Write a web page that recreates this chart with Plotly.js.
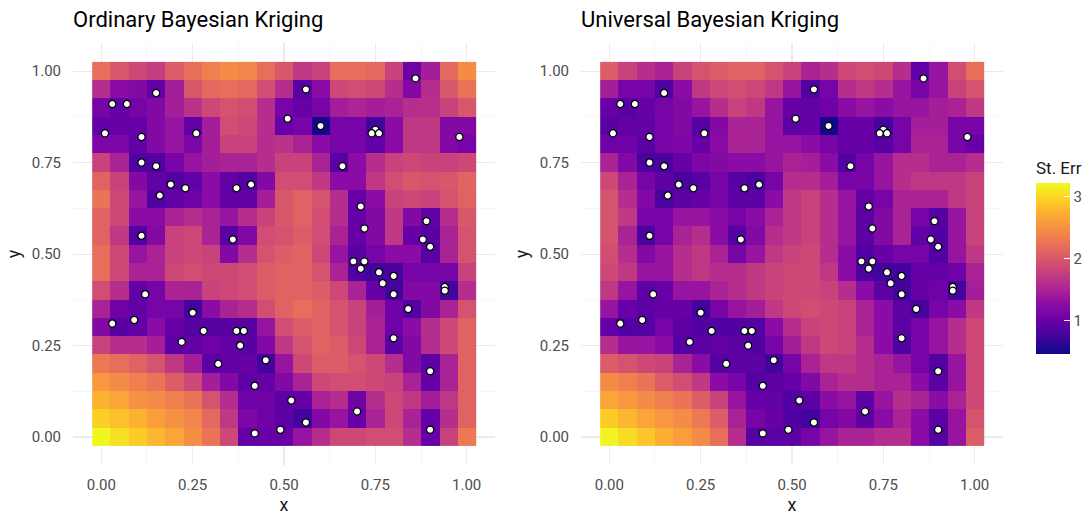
<!DOCTYPE html>
<html>
<head>
<meta charset="utf-8">
<script src="https://cdn.plot.ly/plotly-3.0.1.min.js"></script>
<style>
  html, body { margin: 0; padding: 0; background: #ffffff; }
  #chart { width: 1091px; height: 517px; }
</style>
</head>
<body>
<div id="chart"></div>
<script>
// Prediction grid (cell centres)
const gridX = [0.00,0.05,0.10,0.15,0.20,0.25,0.30,0.35,0.40,0.45,0.50,0.55,0.60,0.65,0.70,0.75,0.80,0.85,0.90,0.95,1.00];
const gridY = [0.00,0.05,0.10,0.15,0.20,0.25,0.30,0.35,0.40,0.45,0.50,0.55,0.60,0.65,0.70,0.75,0.80,0.85,0.90,0.95,1.00];

// Standard error of the ordinary Bayesian kriging prediction, rows bottom (y = 0) to top (y = 1)
const ordinaryErr = [
  [3.20,3.05,2.92,2.78,2.65,2.47,2.25,1.85,0.95,1.00,1.00,1.35,1.60,1.85,1.85,1.90,1.90,1.60,1.00,1.80,2.30],
  [2.95,2.85,2.75,2.60,2.50,2.40,2.15,1.70,1.15,1.05,0.92,0.75,1.20,1.35,1.00,1.50,1.85,1.50,1.00,1.60,2.10],
  [2.75,2.65,2.50,2.45,2.35,2.25,1.95,1.60,1.05,1.05,0.92,1.00,1.50,1.60,1.05,1.60,1.85,1.70,1.45,1.70,2.10],
  [2.55,2.45,2.35,2.25,2.05,1.85,1.45,1.20,0.92,1.00,1.20,1.50,1.85,1.90,1.90,1.85,1.80,1.50,1.00,1.50,2.10],
  [2.30,2.20,2.10,1.95,1.70,1.45,0.92,0.95,1.00,0.75,1.35,1.85,2.05,2.05,1.95,1.85,1.60,1.20,0.92,1.50,2.10],
  [1.80,1.60,1.60,1.45,0.92,0.95,1.05,0.95,0.90,1.20,1.70,1.95,2.10,2.05,1.85,1.50,0.92,1.20,1.60,1.85,2.10],
  [1.20,0.90,0.95,1.25,1.00,0.90,0.90,0.90,0.90,1.35,1.90,2.05,2.10,1.95,1.80,1.50,1.05,1.25,1.60,1.85,2.10],
  [1.50,1.05,0.95,1.10,1.10,0.75,1.25,1.50,1.60,1.90,2.10,2.20,2.10,1.95,1.80,1.45,1.05,0.85,1.20,1.50,1.95],
  [1.90,1.60,0.95,1.10,1.50,1.50,1.80,1.85,1.90,2.05,2.10,2.10,2.05,1.85,1.50,1.00,0.75,1.20,1.20,0.75,1.60],
  [2.20,1.85,1.50,1.50,1.85,1.90,1.85,1.85,1.90,2.05,2.10,2.10,1.95,1.50,0.85,0.75,0.80,1.10,1.10,1.10,1.80],
  [2.20,1.85,1.35,1.50,1.80,1.85,1.80,1.20,1.60,1.95,2.05,2.10,1.85,1.35,0.90,1.10,1.25,1.25,0.90,1.50,1.95],
  [2.10,1.70,0.85,1.20,1.80,1.85,1.50,0.90,1.20,1.90,1.95,2.05,1.90,1.50,1.00,1.20,1.70,1.00,0.90,1.50,1.95],
  [2.10,1.85,1.25,1.25,1.50,1.60,1.50,1.35,1.60,1.80,2.00,2.10,1.90,1.60,1.00,1.20,1.70,1.20,0.95,1.60,2.00],
  [2.25,1.85,1.35,0.85,0.95,1.05,1.25,0.95,0.95,1.45,2.00,2.10,1.95,1.60,1.00,1.25,1.80,1.85,1.80,1.95,2.10],
  [2.10,1.80,1.20,0.95,0.85,0.95,1.25,0.95,0.85,1.20,1.90,1.90,1.70,1.25,1.25,1.70,1.90,2.00,1.95,2.00,2.12],
  [1.80,1.50,0.85,0.85,1.10,1.35,1.45,1.50,1.50,1.60,1.80,1.80,1.50,0.90,1.25,1.60,1.80,1.85,1.80,1.80,1.85],
  [1.15,1.15,0.95,1.20,1.35,1.15,1.45,1.80,1.80,1.60,1.65,1.50,1.25,1.10,1.10,0.95,1.25,1.70,1.70,1.20,1.10],
  [0.95,1.00,1.00,1.20,1.35,0.95,1.45,1.90,1.85,1.60,1.00,1.10,0.50,1.10,1.10,0.75,1.25,1.70,1.70,1.20,1.20],
  [1.10,0.95,1.10,1.20,1.45,1.65,1.85,1.95,1.90,1.60,1.10,1.00,1.12,1.45,1.52,1.45,1.50,1.60,1.62,1.80,2.00],
  [1.60,1.25,1.20,0.95,1.45,2.00,2.15,2.20,2.15,1.90,1.60,0.90,1.25,1.85,1.90,1.85,1.60,1.20,1.60,2.00,2.25],
  [2.20,2.00,1.85,1.75,2.05,2.20,2.35,2.45,2.40,2.20,2.00,1.70,1.80,2.20,2.20,2.15,1.80,1.05,1.45,2.15,2.45]
];

// Standard error of the universal Bayesian kriging prediction, rows bottom to top
const universalErr = [
  [3.18,3.02,2.88,2.72,2.60,2.45,2.20,1.60,0.88,0.92,0.92,1.10,1.35,1.50,1.50,1.60,1.60,1.25,0.88,1.35,2.05],
  [2.92,2.78,2.65,2.55,2.45,2.30,2.05,1.50,1.10,1.00,0.85,0.75,1.10,1.20,0.92,1.25,1.50,1.25,0.92,1.35,1.95],
  [2.65,2.55,2.45,2.35,2.25,2.05,1.80,1.35,1.00,0.95,0.85,0.92,1.25,1.35,0.92,1.35,1.60,1.50,1.25,1.50,1.85],
  [2.45,2.35,2.25,2.05,1.90,1.70,1.25,1.10,0.88,0.92,1.00,1.20,1.50,1.60,1.60,1.50,1.50,1.25,0.92,1.35,1.85],
  [2.05,1.95,1.85,1.80,1.50,1.25,0.88,0.92,0.92,0.75,1.10,1.50,1.70,1.70,1.60,1.50,1.35,1.10,0.85,1.35,1.85],
  [1.60,1.35,1.35,1.25,0.88,0.92,0.95,0.92,0.85,1.10,1.45,1.70,1.85,1.80,1.60,1.25,0.85,1.10,1.35,1.60,1.85],
  [1.00,0.85,0.88,1.10,0.92,0.85,0.85,0.85,0.85,1.25,1.60,1.80,1.85,1.80,1.50,1.25,0.92,1.10,1.35,1.60,1.85],
  [1.35,1.00,0.92,1.00,1.00,0.75,1.10,1.35,1.45,1.70,1.85,1.90,1.85,1.80,1.50,1.25,0.92,0.80,1.10,1.25,1.70],
  [1.70,1.35,0.92,1.00,1.35,1.35,1.50,1.60,1.70,1.80,1.85,1.85,1.80,1.60,1.25,0.92,0.75,1.00,1.05,0.75,1.45],
  [1.85,1.70,1.35,1.35,1.60,1.70,1.60,1.60,1.70,1.80,1.85,1.85,1.70,1.25,0.80,0.75,0.75,1.00,1.00,1.05,1.50],
  [1.90,1.60,1.20,1.35,1.60,1.70,1.50,1.10,1.35,1.70,1.80,1.85,1.60,1.25,0.85,1.00,1.10,1.10,0.85,1.35,1.70],
  [1.95,1.50,0.80,1.10,1.50,1.60,1.25,0.88,1.20,1.60,1.70,1.80,1.60,1.35,0.92,1.20,1.50,0.95,0.85,1.35,1.80],
  [1.95,1.70,1.10,1.10,1.35,1.35,1.25,1.10,1.25,1.50,1.70,1.80,1.60,1.35,0.92,1.20,1.50,1.10,0.88,1.35,1.80],
  [1.95,1.60,1.20,0.80,0.92,1.00,1.10,0.92,0.92,1.25,1.70,1.80,1.60,1.35,0.95,1.10,1.50,1.50,1.50,1.70,1.80],
  [1.85,1.50,1.10,0.92,0.80,0.90,1.10,0.90,0.80,1.10,1.60,1.60,1.45,1.10,1.10,1.35,1.60,1.70,1.70,1.70,1.80],
  [1.50,1.20,0.80,0.80,1.00,1.15,1.20,1.25,1.25,1.35,1.50,1.45,1.25,0.85,1.10,1.35,1.60,1.60,1.50,1.50,1.60],
  [1.05,1.05,0.92,1.10,1.15,1.00,1.25,1.50,1.50,1.35,1.35,1.25,1.10,1.00,1.00,0.90,1.10,1.50,1.50,1.10,1.00],
  [0.90,0.95,0.95,1.10,1.20,0.90,1.20,1.50,1.50,1.35,0.92,1.00,0.50,1.00,1.00,0.75,1.10,1.45,1.45,1.10,1.10],
  [1.00,0.90,1.00,1.10,1.20,1.35,1.60,1.80,1.70,1.35,1.00,0.95,1.05,1.25,1.35,1.25,1.35,1.35,1.45,1.50,1.70],
  [1.45,1.10,1.10,0.85,1.25,1.70,1.85,1.90,1.85,1.70,1.35,0.85,1.10,1.60,1.70,1.60,1.35,1.10,1.35,1.80,1.95],
  [2.05,1.80,1.60,1.50,1.80,1.95,2.05,2.10,2.10,1.95,1.80,1.50,1.60,1.85,1.90,1.85,1.60,0.95,1.35,1.90,2.20]
];

// Observation locations
const obsX = [0.15,0.03,0.07,0.01,0.11,0.26,0.11,0.15,0.19,0.23,0.16,0.37,0.41,0.11,0.36,
              0.86,0.56,0.51,0.60,0.75,0.74,0.76,0.98,0.66,0.71,0.72,0.89,0.88,0.90,
              0.12,0.25,0.03,0.09,0.28,0.37,0.39,0.22,0.38,0.32,0.45,0.42,0.42,0.49,
              0.69,0.72,0.71,0.76,0.80,0.77,0.80,0.94,0.94,0.84,0.80,0.90,0.52,0.70,0.56,0.90];
const obsY = [0.94,0.91,0.91,0.83,0.82,0.83,0.75,0.74,0.69,0.68,0.66,0.68,0.69,0.55,0.54,
              0.98,0.95,0.87,0.85,0.84,0.83,0.83,0.82,0.74,0.63,0.57,0.59,0.54,0.52,
              0.39,0.34,0.31,0.32,0.29,0.29,0.29,0.26,0.25,0.20,0.21,0.14,0.01,0.02,
              0.48,0.48,0.46,0.45,0.44,0.42,0.39,0.41,0.40,0.35,0.27,0.18,0.10,0.07,0.04,0.02];

const axisTicks = [0, 0.25, 0.5, 0.75, 1];
const axisTickText = ['0.00', '0.25', '0.50', '0.75', '1.00'];
const legendTicks = [1, 2, 3];
const legendTickText = ['1', '2', '3'];

const panelTitles = ['Ordinary Bayesian Kriging', 'Universal Bayesian Kriging'];
const legendTitle = 'St. Err';

// plasma palette
const plasma = [
  [0.0, '#0d0887'], [0.1, '#41049d'], [0.2, '#6a00a8'], [0.3, '#8f0da4'],
  [0.4, '#b12a90'], [0.5, '#cc4778'], [0.6, '#e16462'], [0.7, '#f2844b'],
  [0.8, '#fca636'], [0.9, '#fcce25'], [1.0, '#f0f921']
];

const W = 1091, H = 517;
const FONT = 'Roboto, "Open Sans", sans-serif';
const panelRange = [-0.0775, 1.0775];
const yDomain = [51.6 / H, 474.3 / H];

function axisStyle(domain, anchor, titleText, isY) {
  return {
    domain: domain,
    anchor: anchor,
    range: panelRange,
    tickmode: 'array',
    tickvals: axisTicks,
    ticktext: axisTickText,
    ticks: 'outside',
    ticklen: isY ? 8 : 6,
    tickcolor: 'rgba(0,0,0,0)',
    tickfont: { family: FONT, size: 15, color: '#4d4d4d' },
    showgrid: true,
    gridcolor: '#ebebeb',
    gridwidth: 1.1,
    minor: { tickvals: [0.125, 0.375, 0.625, 0.875], showgrid: true, gridcolor: '#f2f2f2', gridwidth: 0.6, ticks: '' },
    zeroline: false,
    showline: false,
    fixedrange: true,
    title: { text: titleText, font: { family: FONT, size: 18, color: '#1a1a1a' }, standoff: isY ? 6 : 4 }
  };
}

const heatBase = { type: 'heatmap', x: gridX, y: gridY, coloraxis: 'coloraxis', hoverinfo: 'skip' };
const pointStyle = {
  type: 'scatter', mode: 'markers', x: obsX, y: obsY, hoverinfo: 'skip', showlegend: false,
  marker: { size: 7.2, color: '#ffffff', line: { color: '#000000', width: 1.25 } }
};

const data = [
  Object.assign({}, heatBase, { z: ordinaryErr, xaxis: 'x', yaxis: 'y' }),
  Object.assign({}, pointStyle, { xaxis: 'x', yaxis: 'y' }),
  Object.assign({}, heatBase, { z: universalErr, xaxis: 'x2', yaxis: 'y2' }),
  Object.assign({}, pointStyle, { xaxis: 'x2', yaxis: 'y2' })
];

const layout = {
  width: W, height: H,
  margin: { l: 0, r: 0, t: 0, b: 0 },
  paper_bgcolor: '#ffffff',
  plot_bgcolor: '#ffffff',
  showlegend: false,
  font: { family: FONT, color: '#1a1a1a' },
  xaxis: axisStyle([73 / W, 495 / W], 'y', 'x', false),
  yaxis: axisStyle(yDomain, 'x', 'y', true),
  xaxis2: axisStyle([581 / W, 1003 / W], 'y2', 'x', false),
  yaxis2: axisStyle(yDomain, 'x2', 'y', true),
  coloraxis: {
    cmin: 0.46, cmax: 3.22,
    colorscale: plasma,
    colorbar: {
      x: 1036 / W, xanchor: 'left', xpad: 0,
      y: (H - 354) / H, yanchor: 'bottom', ypad: 0,
      len: 196, lenmode: 'pixels',
      thickness: 34, thicknessmode: 'pixels',
      outlinewidth: 0,
      tickmode: 'array', tickvals: legendTicks, ticktext: legendTickText,
      ticks: 'inside', ticklen: 6, tickcolor: '#ffffff', tickwidth: 1,
      tickfont: { family: FONT, size: 15, color: '#4d4d4d' },
      title: { text: legendTitle, side: 'top', font: { family: FONT, size: 17, color: '#1a1a1a' } }
    }
  },
  annotations: [
    { text: panelTitles[0], xref: 'paper', yref: 'paper', x: 71 / W, y: 1 - 19 / H,
      xanchor: 'left', yanchor: 'middle', showarrow: false,
      font: { family: FONT, size: 22, color: '#000000' } },
    { text: panelTitles[1], xref: 'paper', yref: 'paper', x: 579 / W, y: 1 - 19 / H,
      xanchor: 'left', yanchor: 'middle', showarrow: false,
      font: { family: FONT, size: 22, color: '#000000' } }
  ]
};

Plotly.newPlot('chart', data, layout, { staticPlot: true, displayModeBar: false });
</script>
</body>
</html>
